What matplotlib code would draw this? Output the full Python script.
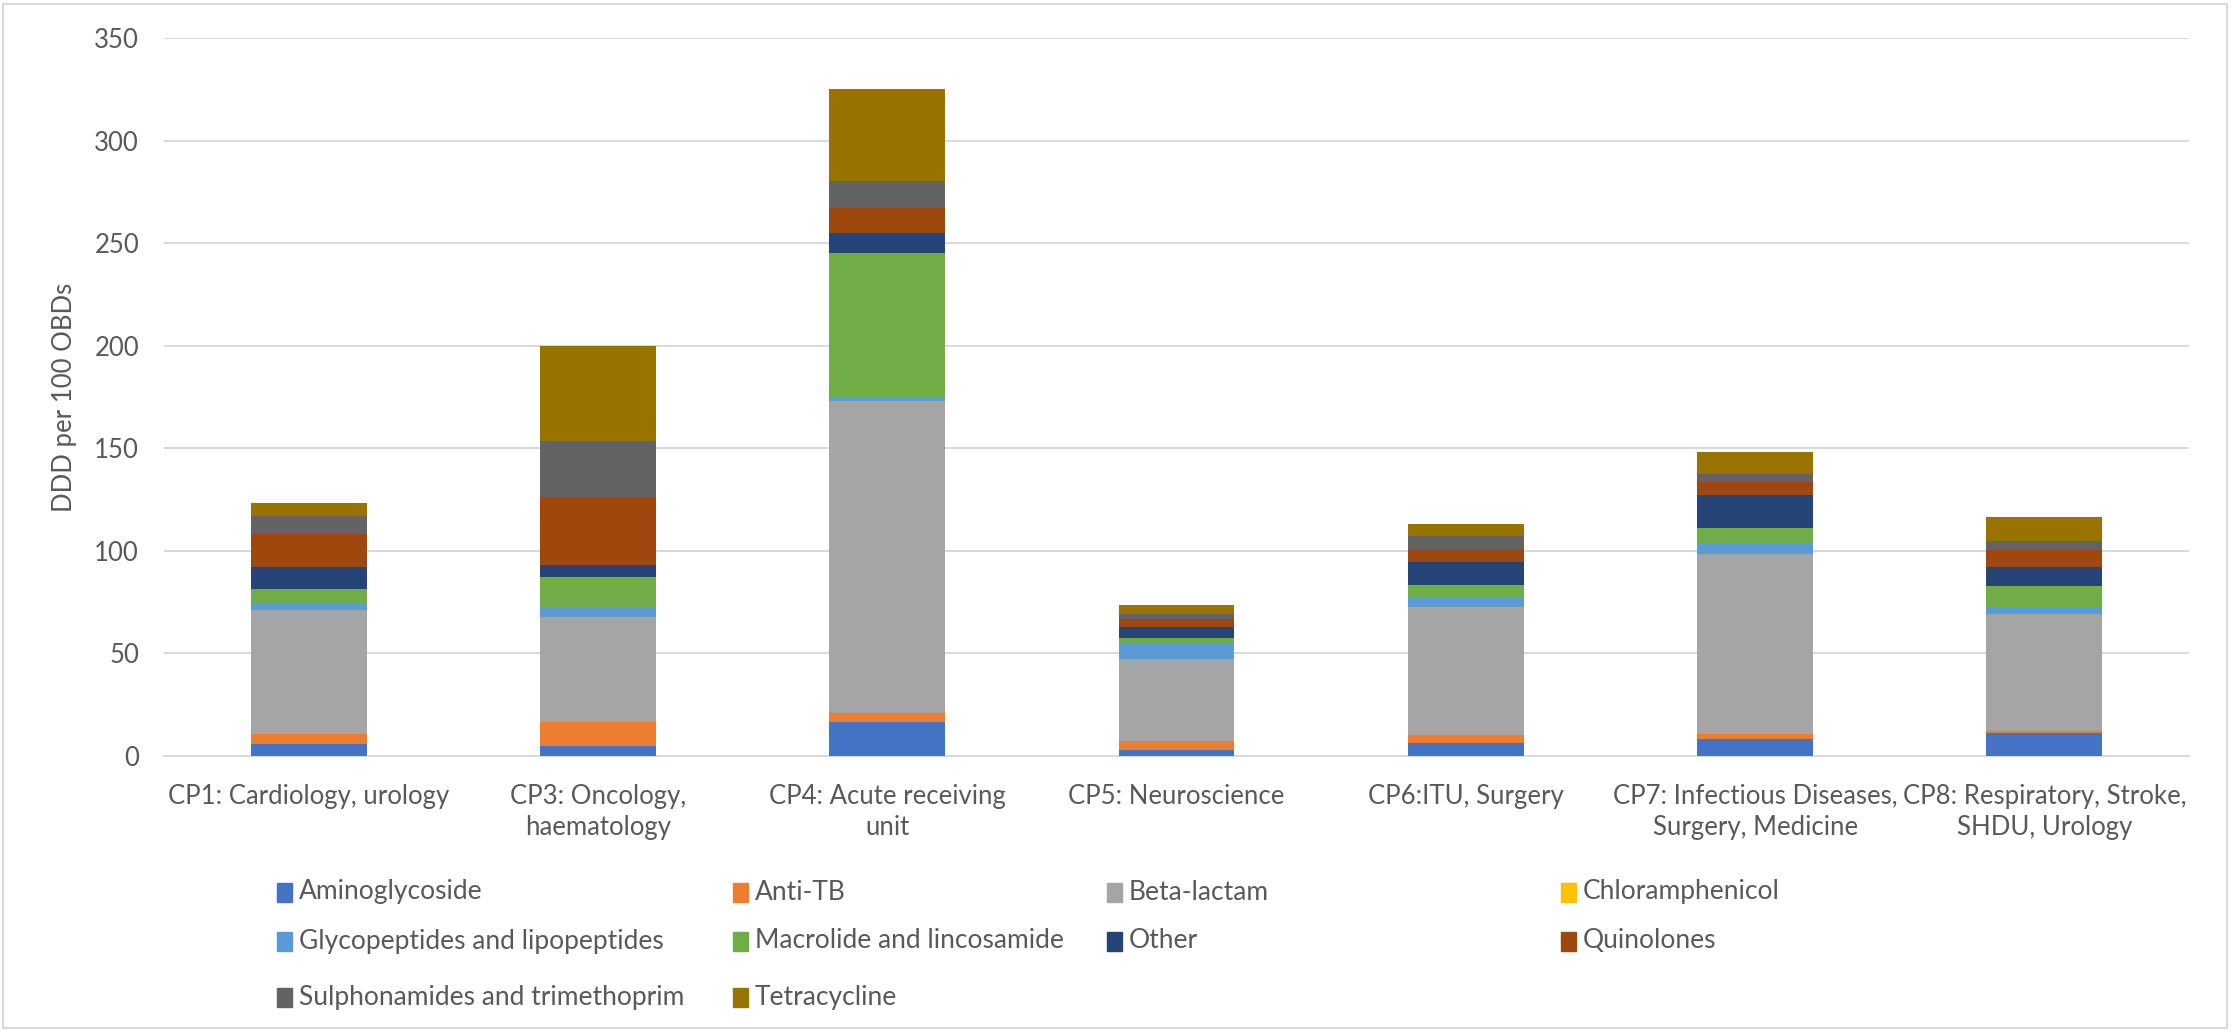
import numpy as np
import matplotlib
matplotlib.use("Agg")
import matplotlib.pyplot as plt
from matplotlib.patches import Rectangle

plt.rcParams['font.family'] = ['Lato', 'DejaVu Sans']

# wards on the x axis
wards = ["CP1: Cardiology, urology", "CP3: Oncology,\nhaematology",
         "CP4: Acute receiving\nunit", "CP5: Neuroscience", "CP6:ITU, Surgery",
         "CP7: Infectious Diseases,\nSurgery, Medicine",
         "CP8: Respiratory, Stroke,\nSHDU, Urology"]

# DDD per 100 OBDs, one list per antibiotic class
aminoglycoside = [6.0, 4.7, 16.8, 2.9, 6.2, 8.5, 11.4]
anti_tb = [4.9, 11.9, 4.2, 4.6, 4.0, 2.4, 0.9]
beta_lactam = [60.4, 51.1, 152.2, 39.6, 62.2, 87.5, 56.7]
chloramphenicol = [0, 0, 0, 0, 0, 0, 0]
glycopeptides = [3.2, 4.9, 2.0, 7.8, 4.9, 5.5, 3.2]
macrolide = [7.0, 14.9, 70.0, 2.4, 6.0, 7.3, 10.6]
other = [10.5, 5.4, 9.8, 5.7, 11.3, 16.0, 9.4]
quinolones = [16.0, 33.2, 12.1, 3.6, 6.5, 6.5, 8.1]
sulphonamides = [9.2, 27.6, 13.4, 2.4, 6.0, 4.0, 4.6]
tetracycline = [6.2, 46.3, 44.5, 4.5, 6.2, 10.6, 11.7]

series_names = ["Aminoglycoside", "Anti-TB", "Beta-lactam", "Chloramphenicol",
                "Glycopeptides and lipopeptides", "Macrolide and lincosamide",
                "Other", "Quinolones", "Sulphonamides and trimethoprim", "Tetracycline"]
series_vals = [aminoglycoside, anti_tb, beta_lactam, chloramphenicol, glycopeptides,
               macrolide, other, quinolones, sulphonamides, tetracycline]
colors = ["#4472C4", "#ED7D31", "#A5A5A5", "#FFC000", "#5B9BD5",
          "#70AD47", "#264478", "#9E480E", "#636363", "#997300"]

txt_col = "#595959"
grid_col = "#d9d9d9"
W, H = 2231, 1031

fig = plt.figure(figsize=(W / 100, H / 100), dpi=100)
# plot area in pixels: left 164, right 2189, top 38, bottom 756
ax = fig.add_axes([164 / W, 1 - 756 / H, (2189 - 164) / W, (756 - 38) / H])

x = np.arange(len(wards))
bottom = np.zeros(len(wards))
for name, vals, c in zip(series_names, series_vals, colors):
    vals = np.array(vals, dtype=float)
    ax.bar(x, vals, width=0.4, bottom=bottom, color=c, label=name, zorder=3)
    bottom += vals

ax.set_xlim(-0.5, len(wards) - 0.5)
ax.set_ylim(0, 350)
ax.set_yticks(np.arange(0, 351, 50))
ax.set_xticks(x)
ax.set_xticklabels(wards, linespacing=1.3)
ax.tick_params(axis='both', length=0, labelsize=18.5, colors=txt_col)
ax.tick_params(axis='y', pad=18)
ax.tick_params(axis='x', pad=20)
ax.yaxis.grid(True, color=grid_col, linewidth=1.4, zorder=0)
for s in ['top', 'right', 'left']:
    ax.spines[s].set_visible(False)
ax.spines['bottom'].set_color(grid_col)
ax.spines['bottom'].set_linewidth(1.4)
ax.set_ylabel("DDD per 100 OBDs", fontsize=18.5, color=txt_col, labelpad=12)

# legend laid out like Excel: row-major, 4 columns
col_x = [277, 733, 1107, 1561]
row_y = [892, 941, 997]
for i, (name, c) in enumerate(zip(series_names, colors)):
    r, k = divmod(i, 4)
    px, py = col_x[k], row_y[r]
    fig.patches.append(Rectangle((px / W, (H - py - 10) / H), 15 / W, 19 / H,
                                 transform=fig.transFigure, color=c))
    fig.text((px + 22) / W, (H - py) / H, name, fontsize=19, color=txt_col,
             va='center', ha='left')

# outer chart border
fig.patches.append(Rectangle((3 / W, 3 / H), 1 - 7 / W, 1 - 7 / H,
                             transform=fig.transFigure, fill=False,
                             edgecolor=grid_col, linewidth=1.5))

fig.savefig("out.png", dpi=100)
